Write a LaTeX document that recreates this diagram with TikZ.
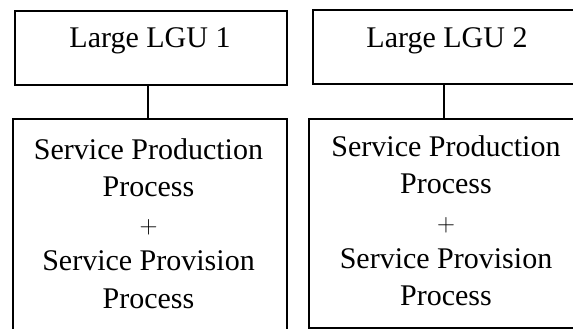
\documentclass[tikz,border=0pt]{standalone}
\usepackage{fontspec}
\setmainfont{Liberation Serif}
\begin{document}
\begin{tikzpicture}[x=1pt,y=-1pt,
  boxline/.style={draw=black,line width=2pt,rectangle,inner sep=0pt,anchor=north west},
  conn/.style={draw=black,line width=1.1pt},
  lbl/.style={font=\fontsize{30}{37.25}\selectfont,align=center,inner sep=0pt,anchor=base}]
\clip (0,0) rectangle (573,329);
\fill[white] (0,0) rectangle (573,329);
% upper boxes
\node[boxline,minimum width=272pt,minimum height=74pt] (b1) at (14,10) {};
\node[boxline,minimum width=264pt,minimum height=74pt] (b2) at (312,9) {};
% lower boxes
\node[boxline,minimum width=274pt,minimum height=230pt] (p1) at (12,118) {};
\node[boxline,minimum width=272pt,minimum height=209pt] (p2) at (308,118) {};
% connectors
\draw[conn] (b1.south -| 148,0) -- (p1.north -| 148,0);
\draw[conn] (b2.south -| 444,0) -- (p2.north -| 444,0);
% labels
\node[lbl] (t1) at (150,48) {Large LGU 1};
\node[lbl] (t2) at (447,48) {Large LGU 2};
\node[lbl] (s1) at (148.5,308) {Service Production\\Process\\$+$\\Service Provision\\Process};
\node[lbl] (s2) at (446,305.5) {Service Production\\Process\\$+$\\Service Provision\\Process};
\end{tikzpicture}
\end{document}
